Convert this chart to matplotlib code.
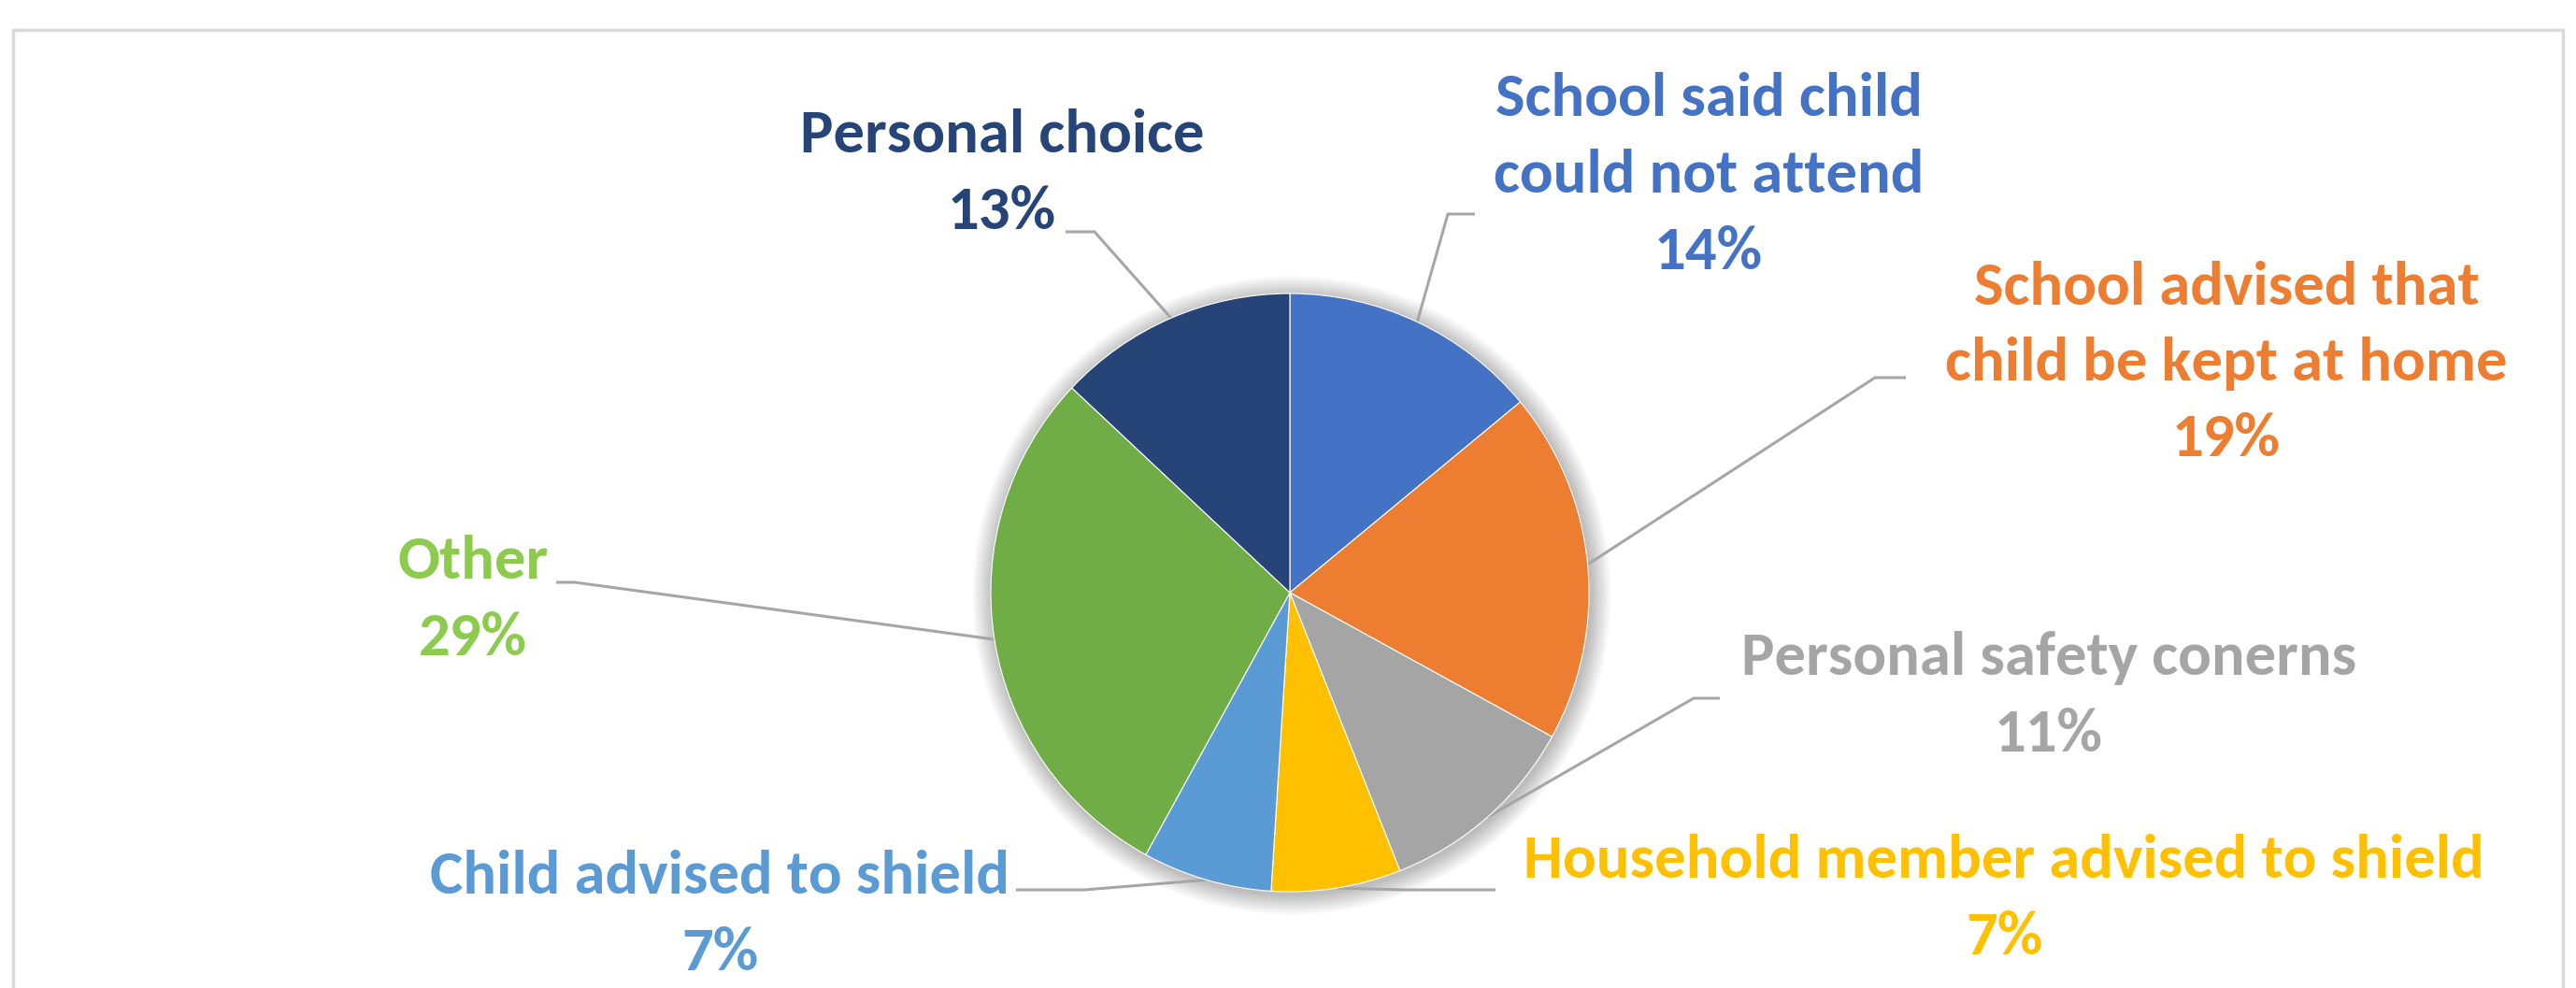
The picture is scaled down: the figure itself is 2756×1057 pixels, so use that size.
import numpy as np
import matplotlib
matplotlib.use("Agg")
import matplotlib.pyplot as plt
from matplotlib.patches import Circle, Rectangle

# data (clockwise from 12 o'clock)
reasons = [
    "School said child\ncould not attend",
    "School advised that\nchild be kept at home",
    "Personal safety conerns",
    "Household member advised to shield",
    "Child advised to shield",
    "Other",
    "Personal choice",
]
shares = [14, 19, 11, 7, 7, 29, 13]
slice_colors = ["#4472C4", "#ED7D31", "#A5A5A5", "#FFC000", "#5B9BD5", "#70AD47", "#264478"]
text_colors = ["#4472C4", "#ED7D31", "#A5A5A5", "#FFC000", "#5B9BD5", "#8CCB4E", "#264478"]

# layout (pixel coords, y from bottom) -- label centre, leader bend, leader end
W, H = 2756, 1057
label_xy = [(1828, 869), (2382, 668), (2192, 312), (2144, 95), (770, 78), (506, 415), (1072, 871)]
bend_xy = [(1549, 828), (2006, 653), (1812, 310), (1504, 105), (1160, 105), (615, 434), (1171, 809)]
end_x = [1578, 2039, 1840, 1600, 1087, 595, 1140]

plt.rcParams["font.family"] = ["Carlito", "Lato", "DejaVu Sans"]

fig = plt.figure(figsize=(W / 100, H / 100), dpi=100)
ax = fig.add_axes([0, 0, 1, 1])

cx, cy, r = 1380, 423, 320

# soft glow behind the pie
for k in range(22, 0, -1):
    ax.add_patch(Circle((cx + 2, cy - 3), r + k, color="#000000", alpha=0.01, lw=0, zorder=0))

wedges, _ = ax.pie(shares, colors=slice_colors, startangle=90, counterclock=False,
                   center=(cx, cy), radius=r,
                   wedgeprops=dict(edgecolor="white", linewidth=0.8))
for w in wedges:
    w.set_zorder(2)

for i, w in enumerate(wedges):
    mid = np.deg2rad((w.theta1 + w.theta2) / 2)
    ex, ey = cx + r * np.cos(mid), cy + r * np.sin(mid)
    bx, by = bend_xy[i]
    ax.plot([end_x[i], bx, ex], [by, by, ey], color="#A6A6A6", lw=2.2, zorder=1,
            solid_capstyle="butt")
    lx, ly = label_xy[i]
    ax.text(lx, ly, f"{reasons[i]}\n{shares[i]}%", ha="center", va="center",
            fontsize=48, fontweight="bold", color=text_colors[i], linespacing=1.5,
            zorder=3)

# chart frame
ax.add_patch(Rectangle((14, -20), 2728, H - 32 + 20, fill=False, edgecolor="#D9D9D9",
                       lw=2.5, zorder=0))

ax.set_xlim(0, W)
ax.set_ylim(0, H)
ax.set_aspect("equal")
ax.axis("off")

fig.savefig("out.png", dpi=100, facecolor="white")
